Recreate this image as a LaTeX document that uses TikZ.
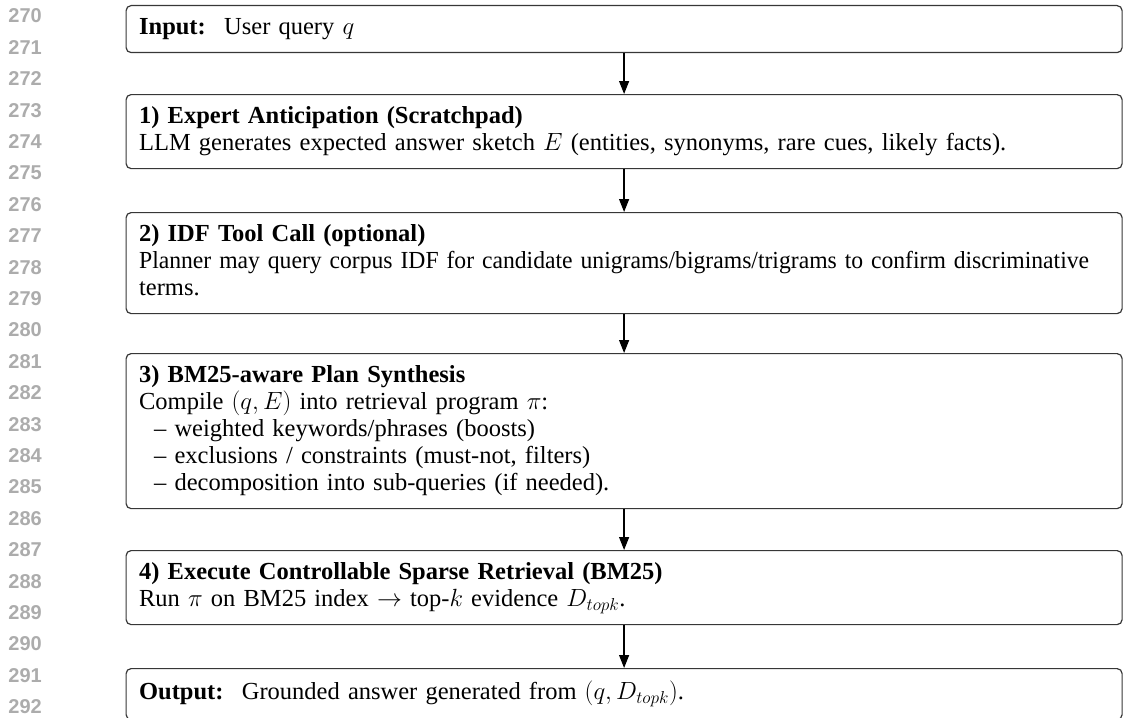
\documentclass[tikz,border=0pt]{standalone}
\usepackage{fontspec}
\usepackage{graphicx}
\setmainfont{Liberation Serif}
\newfontfamily\linenofont{Liberation Sans}
\usetikzlibrary{arrows.meta}
\definecolor{lineno}{RGB}{172,172,172}
\definecolor{boxline}{RGB}{55,55,55}
\begin{document}
\begin{tikzpicture}[x=1pt,y=-1pt,
  stage/.style={draw=boxline, line width=1.2pt, rounded corners=5pt,
    anchor=north west, text width=970pt, align=left,
    inner xsep=13pt, inner ysep=10pt,
    font=\fontsize{24.5}{27}\selectfont,
    execute at begin node=\strut, execute at end node=\strut},
  flow/.style={-{Triangle[width=10pt,length=13pt]}, line width=1.3pt},
  lineno/.style={font=\linenofont\bfseries\fontsize{20}{20}\selectfont,
    text=lineno, anchor=east, inner sep=0pt}]
\useasboundingbox (0,0) rectangle (1123,717);

% margin line numbers
\foreach \n in {270,...,292}{
  \node[lineno] (ln\n) at (42,{16+(\n-270)*31.4}) {\n};
}

% pipeline stages
\node[stage] (input) at (125.5,5)
  {\textbf{Input:}\hspace{0.75em}User query $q$};
\node[stage] (s1) at (125.5,94)
  {\textbf{1) Expert Anticipation (Scratchpad)}\\
   LLM generates expected answer sketch $E$ (entities, synonyms, rare cues, likely facts).};
\node[stage] (s2) at (125.5,212)
  {\textbf{2) IDF Tool Call (optional)}\\
   \resizebox{950pt}{\height}{Planner may query corpus IDF for candidate unigrams/bigrams/trigrams to confirm discriminative}\\
   terms.};
\node[stage] (s3) at (125.5,353)
  {\textbf{3) BM25-aware Plan Synthesis}\\
   Compile $(q, E)$ into retrieval program $\pi$:\\
   \hspace*{15pt}– weighted keywords/phrases (boosts)\\
   \hspace*{15pt}– exclusions / constraints (must-not, filters)\\
   \hspace*{15pt}– decomposition into sub-queries (if needed).};
\node[stage] (s4) at (125.5,550)
  {\textbf{4) Execute Controllable Sparse Retrieval (BM25)}\\
   Run $\pi$ on BM25 index $\rightarrow$ top-$k$ evidence $D_{topk}$.};
\node[stage, minimum height=51pt] (output) at (125.5,668)
  {\textbf{Output:}\hspace{0.75em}Grounded answer generated from $(q, D_{topk})$.};

% connectors
\draw[flow] (input.south) -- (s1.north);
\draw[flow] (s1.south) -- (s2.north);
\draw[flow] (s2.south) -- (s3.north);
\draw[flow] (s3.south) -- (s4.north);
\draw[flow] (s4.south) -- (output.north);
\end{tikzpicture}
\end{document}
